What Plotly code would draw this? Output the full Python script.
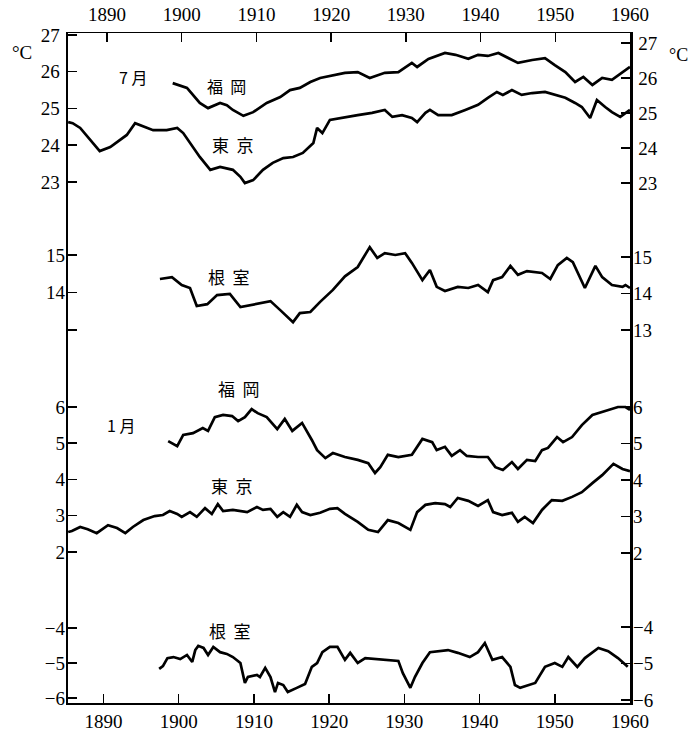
import plotly.graph_objects as go

# ---------------- data ----------------
jul_fukuoka_year = [1899.2, 1901.1, 1902.8, 1903.9, 1905.5, 1906.4, 1907.2, 1908.6, 1909.9, 1911.7,
                    1913.5, 1914.8, 1916.1, 1917.5, 1918.8, 1920.5, 1922.1, 1923.8, 1925.4, 1927.4,
                    1929.2, 1931.0, 1931.7, 1933.2, 1935.4, 1936.8, 1938.5, 1939.8, 1941.1, 1942.5,
                    1943.8, 1945.1, 1947.0, 1948.7, 1950.0, 1951.4, 1952.7, 1953.8, 1955.0, 1956.3,
                    1957.6, 1959.0, 1960.0]
jul_fukuoka_temp = [25.69, 25.56, 25.15, 25.01, 25.15, 25.09, 24.96, 24.80, 24.90, 25.15,
                    25.31, 25.50, 25.56, 25.72, 25.83, 25.91, 25.97, 25.99, 25.83, 25.97,
                    25.99, 26.24, 26.13, 26.35, 26.51, 26.46, 26.35, 26.46, 26.43, 26.51,
                    26.37, 26.24, 26.32, 26.37, 26.18, 25.99, 25.72, 25.86, 25.64, 25.83,
                    25.78, 25.99, 26.13]

jul_tokyo_year = [1885.3, 1885.9, 1886.9, 1888.2, 1889.5, 1890.9, 1892.2, 1893.1, 1894.2, 1895.3,
                  1896.6, 1898.4, 1899.8, 1900.6, 1901.5, 1902.8, 1904.2, 1905.5, 1907.2, 1908.2,
                  1908.8, 1909.9, 1911.2, 1912.5, 1913.9, 1915.2, 1916.5, 1917.9, 1918.4, 1919.1,
                  1920.1, 1922.1, 1923.8, 1925.7, 1927.4, 1928.4, 1929.7, 1931.0, 1931.7, 1932.8,
                  1933.4, 1934.5, 1936.3, 1938.1, 1939.8, 1941.1, 1942.3, 1943.1, 1944.3, 1945.6,
                  1947.0, 1948.7, 1950.0, 1951.4, 1952.7, 1953.6, 1954.7, 1955.6, 1956.7, 1957.6,
                  1958.7, 1959.4, 1960.0]
jul_tokyo_temp = [24.63, 24.60, 24.47, 24.14, 23.84, 23.95, 24.14, 24.28, 24.60, 24.52,
                  24.41, 24.41, 24.47, 24.33, 24.06, 23.68, 23.33, 23.41, 23.33, 23.14,
                  22.97, 23.05, 23.33, 23.52, 23.65, 23.68, 23.79, 24.06, 24.47, 24.33,
                  24.69, 24.77, 24.82, 24.88, 24.96, 24.77, 24.82, 24.74, 24.63, 24.88,
                  24.96, 24.82, 24.82, 24.96, 25.10, 25.29, 25.45, 25.37, 25.50, 25.37,
                  25.42, 25.45, 25.37, 25.29, 25.15, 25.04, 24.74, 25.23, 25.04, 24.90,
                  24.77, 24.88, 24.96]

jul_nemuro_year = [1897.5, 1899.1, 1900.4, 1901.5, 1902.4, 1903.8, 1905.1, 1906.8, 1908.2, 1909.9,
                   1912.2, 1913.5, 1915.2, 1916.1, 1917.5, 1918.8, 1920.5, 1922.1, 1923.8, 1925.4,
                   1926.4, 1927.4, 1928.8, 1930.1, 1931.0, 1932.4, 1933.4, 1934.3, 1935.4, 1937.1,
                   1938.5, 1939.8, 1941.1, 1941.8, 1943.0, 1944.1, 1945.1, 1946.3, 1948.3, 1949.4,
                   1950.4, 1951.6, 1952.4, 1954.0, 1955.4, 1956.3, 1957.6, 1959.0, 1959.4, 1960.0]
jul_nemuro_temp = [14.36, 14.41, 14.20, 14.12, 13.64, 13.69, 13.93, 13.96, 13.61, 13.67,
                   13.77, 13.53, 13.21, 13.45, 13.48, 13.75, 14.07, 14.43, 14.68, 15.21,
                   14.92, 15.05, 15.00, 15.05, 14.79, 14.33, 14.60, 14.15, 14.04, 14.15,
                   14.12, 14.20, 14.01, 14.33, 14.41, 14.71, 14.47, 14.57, 14.52, 14.36,
                   14.73, 14.92, 14.81, 14.12, 14.71, 14.41, 14.20, 14.15, 14.20, 14.12]

jan_fukuoka_year = [1898.6, 1899.8, 1900.6, 1901.9, 1903.2, 1903.9, 1904.8, 1905.9, 1907.1, 1907.9,
                    1908.8, 1909.7, 1910.5, 1911.7, 1913.1, 1914.1, 1915.1, 1916.4, 1917.7, 1918.4,
                    1919.5, 1920.5, 1922.1, 1923.8, 1925.2, 1926.1, 1926.8, 1927.8, 1929.2, 1931.0,
                    1932.4, 1933.7, 1934.3, 1935.4, 1936.3, 1937.4, 1938.3, 1939.8, 1941.1, 1942.1,
                    1943.1, 1944.3, 1945.1, 1946.3, 1947.4, 1948.3, 1949.1, 1950.3, 1951.1, 1952.3,
                    1953.6, 1955.0, 1956.7, 1958.4, 1959.4, 1960.0]
jan_fukuoka_temp = [5.06, 4.92, 5.23, 5.28, 5.42, 5.34, 5.72, 5.78, 5.75, 5.61,
                    5.72, 5.94, 5.83, 5.72, 5.39, 5.67, 5.34, 5.56, 5.09, 4.81,
                    4.59, 4.73, 4.62, 4.54, 4.45, 4.18, 4.34, 4.68, 4.62, 4.68,
                    5.12, 5.03, 4.81, 4.90, 4.65, 4.81, 4.65, 4.62, 4.62, 4.34,
                    4.26, 4.48, 4.29, 4.54, 4.51, 4.81, 4.87, 5.17, 5.03, 5.17,
                    5.50, 5.78, 5.89, 6.00, 6.00, 5.92]

jan_tokyo_year = [1885.3, 1885.8, 1886.9, 1887.9, 1889.1, 1890.6, 1891.8, 1892.9, 1893.9, 1895.3,
                  1896.8, 1897.9, 1898.8, 1899.8, 1900.4, 1901.5, 1902.4, 1903.5, 1904.4, 1905.2,
                  1905.9, 1907.2, 1909.1, 1910.4, 1911.2, 1912.2, 1913.1, 1913.9, 1914.8, 1915.7,
                  1916.4, 1917.5, 1918.8, 1920.1, 1921.1, 1922.1, 1923.8, 1925.2, 1926.5, 1927.8,
                  1929.2, 1930.8, 1931.7, 1932.8, 1934.1, 1935.4, 1936.1, 1937.1, 1938.5, 1939.8,
                  1941.1, 1941.8, 1943.0, 1944.3, 1945.1, 1946.0, 1947.1, 1948.3, 1949.6, 1951.0,
                  1952.3, 1953.6, 1955.0, 1956.3, 1957.8, 1959.0, 1960.0]
jan_tokyo_temp = [2.55, 2.58, 2.69, 2.63, 2.52, 2.74, 2.66, 2.52, 2.69, 2.88,
                  2.99, 3.02, 3.13, 3.05, 2.97, 3.10, 2.97, 3.21, 3.05, 3.32,
                  3.13, 3.16, 3.10, 3.24, 3.16, 3.19, 2.97, 3.10, 2.97, 3.30,
                  3.10, 3.02, 3.08, 3.19, 3.21, 3.05, 2.83, 2.61, 2.55, 2.88,
                  2.80, 2.61, 3.10, 3.30, 3.35, 3.32, 3.24, 3.49, 3.41, 3.27,
                  3.43, 3.10, 3.02, 3.08, 2.83, 2.97, 2.80, 3.16, 3.43, 3.41,
                  3.52, 3.65, 3.90, 4.12, 4.43, 4.29, 4.23]

jan_nemuro_year = [1897.4, 1897.9, 1898.5, 1899.3, 1900.2, 1901.1, 1901.8, 1902.2, 1902.6, 1903.3,
                   1903.9, 1904.6, 1905.5, 1906.4, 1907.2, 1908.2, 1908.8, 1909.2, 1910.4, 1910.8,
                   1911.5, 1912.2, 1912.8, 1913.2, 1913.9, 1914.5, 1915.7, 1916.8, 1917.7, 1918.4,
                   1919.1, 1920.1, 1921.1, 1922.1, 1922.8, 1923.8, 1924.8, 1926.5, 1929.2, 1929.8,
                   1930.8, 1931.4, 1932.4, 1933.4, 1935.8, 1937.1, 1938.7, 1939.8, 1940.7, 1941.7,
                   1943.0, 1944.1, 1944.7, 1945.4, 1947.4, 1948.7, 1950.0, 1951.0, 1951.8, 1953.0,
                   1954.0, 1955.8, 1957.1, 1958.4, 1959.7]
jan_nemuro_temp = [-5.17, -5.09, -4.86, -4.83, -4.89, -4.77, -4.97, -4.63, -4.51, -4.57,
                   -4.77, -4.54, -4.69, -4.74, -4.83, -5.00, -5.57, -5.40, -5.34, -5.40,
                   -5.14, -5.40, -5.83, -5.57, -5.63, -5.83, -5.71, -5.60, -5.11, -5.00,
                   -4.69, -4.54, -4.54, -4.91, -4.71, -5.00, -4.86, -4.89, -4.94, -5.29,
                   -5.71, -5.40, -5.00, -4.69, -4.63, -4.71, -4.83, -4.69, -4.43, -4.91,
                   -4.83, -5.11, -5.63, -5.71, -5.57, -5.11, -5.00, -5.11, -4.83, -5.11,
                   -4.86, -4.57, -4.66, -4.86, -5.11]

year_ticks = [1890, 1900, 1910, 1920, 1930, 1940, 1950, 1960]
jul_ticks = [23, 24, 25, 26, 27]
jul_nemuro_ticks = [13, 14, 15]
jan_ticks = [2, 3, 4, 5, 6]
jan_nemuro_ticks = [-6, -5, -4]

# ---------------- figure ----------------
fig = go.Figure()
LINE = dict(color="black", width=2.7)

series = [
    (jul_fukuoka_year, jul_fukuoka_temp, "y"),
    (jul_tokyo_year, jul_tokyo_temp, "y"),
    (jul_nemuro_year, jul_nemuro_temp, "y2"),
    (jan_fukuoka_year, jan_fukuoka_temp, "y3"),
    (jan_tokyo_year, jan_tokyo_temp, "y3"),
    (jan_nemuro_year, jan_nemuro_temp, "y4"),
]
for xs, ys, ya in series:
    fig.add_trace(go.Scatter(x=xs, y=ys, mode="lines", line=LINE, xaxis="x", yaxis=ya,
                             showlegend=False, hoverinfo="skip"))

# empty traces so the mirrored axes are drawn
for xa, ya in [("x2", "y"), ("x", "y5"), ("x", "y6"), ("x", "y7"), ("x", "y8")]:
    fig.add_trace(go.Scatter(x=[None], y=[None], mode="lines", xaxis=xa, yaxis=ya,
                             showlegend=False, hoverinfo="skip"))

SERIF = dict(family="Liberation Serif, DejaVu Serif, serif", size=19, color="black")
CJK = "Noto Sans CJK JP"

xcommon = dict(tickvals=year_ticks, ticks="inside", ticklen=9, tickwidth=1.5, tickcolor="black",
               showgrid=False, zeroline=False, showline=True, linecolor="black",
               tickfont=SERIF, fixedrange=True, automargin=False)

def yax(rng, tv, side, showline, overlay=True, ticktext=None):
    d = dict(range=rng, tickvals=tv, ticks="inside", ticklen=9, tickwidth=1.5, tickcolor="black",
             showgrid=False, zeroline=False, showline=showline, linecolor="black", linewidth=2.5,
             tickfont=SERIF, side=side, anchor="x", fixedrange=True, ticklabelstandoff=2,
             automargin=False)
    if ticktext is not None:
        d["ticktext"] = ticktext
    if overlay:
        d["overlaying"] = "y"
    return d

fig.update_layout(
    width=690, height=732,
    margin=dict(l=68, r=60, t=33, b=29, pad=0),
    paper_bgcolor="white", plot_bgcolor="white",
    xaxis=dict(range=[1885.28, 1960], side="bottom", anchor="y", linewidth=2, **xcommon),
    xaxis2=dict(range=[1884.78, 1960], side="top", anchor="y", overlaying="x", linewidth=1.5,
                ticklabelstandoff=3, **xcommon),
    yaxis=yax([8.82, 27.054], jul_ticks, "left", True, overlay=False),
    yaxis2=yax([3.053, 20.92], jul_nemuro_ticks, "left", False, ticktext=["", "14", "15"]),
    yaxis3=yax([-2.166, 16.317], jan_ticks, "left", False),
    yaxis4=yax([-6.143, 13.0], jan_nemuro_ticks, "left", False),
    yaxis5=yax([8.143, 27.286], jul_ticks, "right", True),
    yaxis6=yax([2.781, 21.137], jul_nemuro_ticks, "right", False),
    yaxis7=yax([-2.109, 16.247], jan_ticks, "right", False),
    yaxis8=yax([-6.082, 12.274], jan_nemuro_ticks, "right", False),
)

def px(x, y):
    return (x - 68) / 562.0, (703 - y) / 670.0

labels = [
    ("°C", 22, 52, SERIF["family"], 19),
    ("°C", 678, 55, SERIF["family"], 18),
    ("7 月", 133, 77, CJK, 16),
    ("福  岡", 226, 86, CJK, 16),
    ("東  京", 233, 145, CJK, 17),
    ("根  室", 229, 276, CJK, 17),
    ("福  岡", 239, 389, CJK, 17),
    ("1 月", 121, 425, CJK, 16),
    ("東  京", 232, 486, CJK, 17),
    ("根  室", 230, 630, CJK, 17),
]
for text, x, y, fam, size in labels:
    ax, ay = px(x, y)
    fig.add_annotation(text=text, x=ax, y=ay, xref="paper", yref="paper", showarrow=False,
                       xanchor="center", yanchor="middle",
                       font=dict(family=fam, size=size, color="black"))

fig.write_html("out.html", config={"displayModeBar": False, "staticPlot": True})

# remove the browser's default page margin so the figure sits at the window's corner
with open("out.html", "r", encoding="utf-8") as f:
    html = f.read()
html = html.replace("<head>", "<head><style>html,body{margin:0;padding:0;overflow:hidden;}</style>", 1)
with open("out.html", "w", encoding="utf-8") as f:
    f.write(html)
